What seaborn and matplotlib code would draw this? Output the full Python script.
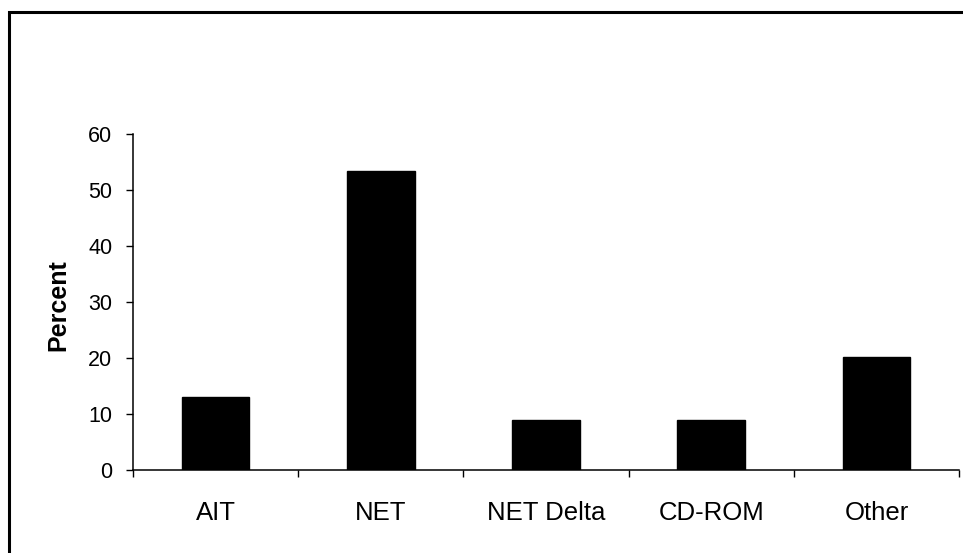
import matplotlib
matplotlib.use("Agg")
import matplotlib.pyplot as plt
from matplotlib.patches import Rectangle
from matplotlib.ticker import FixedLocator
import seaborn as sns
import pandas as pd

categories = ["AIT", "NET", "NET Delta", "CD-ROM", "Other"]
percent = [13.0, 53.4, 8.9, 9.0, 20.1]
y_ticks = [0, 10, 20, 30, 40, 50, 60]

df = pd.DataFrame({"category": categories, "percent": percent})

sns.set_theme(style="white")
plt.rcParams["font.family"] = ["Liberation Sans", "DejaVu Sans"]
plt.rcParams["text.color"] = "black"
plt.rcParams["axes.labelcolor"] = "black"
plt.rcParams["xtick.color"] = "black"
plt.rcParams["ytick.color"] = "black"

fig = plt.figure(figsize=(9.63, 5.53), dpi=100)
ax = fig.add_axes([133 / 963, 1 - 470 / 553, (959 - 133) / 963, (470 - 134) / 553])

sns.barplot(data=df, x="category", y="percent", color="black", width=0.41,
            saturation=1, ax=ax, edgecolor="black")

ax.set_xlim(-0.5, len(categories) - 0.5)
ax.set_ylim(0, 60)
ax.set_yticks(y_ticks)
ax.set_yticklabels([str(v) for v in y_ticks], fontsize=15.5)
ax.set_xticks(range(len(categories)))
ax.set_xticklabels(categories, fontsize=18.5)
ax.xaxis.set_minor_locator(FixedLocator([i - 0.5 for i in range(len(categories) + 1)]))
ax.tick_params(axis="x", which="major", length=0, pad=22)
ax.tick_params(axis="x", which="minor", length=5, width=1, color="black", direction="out", bottom=True)
ax.tick_params(axis="y", which="major", length=5, width=1, color="black", direction="out", left=True, pad=10)

for side in ["top", "right"]:
    ax.spines[side].set_visible(False)
for side in ["left", "bottom"]:
    ax.spines[side].set_color("black")
    ax.spines[side].set_linewidth(1.1)

ax.set_xlabel("")
ax.set_ylabel("Percent", fontsize=18, fontweight="bold")
ax.yaxis.set_label_coords(-0.076, 0.49)

# outer frame (left and top visible, runs off right/bottom edges)
fig.patches.append(Rectangle((9 / 963, -0.2), 1.2, 1 - 12 / 553 + 0.2,
                             transform=fig.transFigure, fill=False,
                             edgecolor="black", linewidth=2.2, zorder=10))

fig.savefig("out.png", dpi=100, facecolor="white")
